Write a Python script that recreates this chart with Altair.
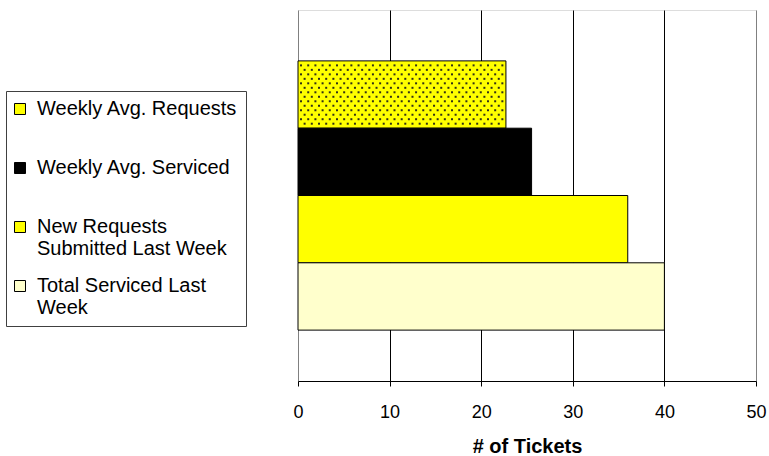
import altair as alt
import pandas as pd

# Ticket counts per series (bars from top to bottom)
categories = [
    "Weekly Avg. Requests",
    "Weekly Avg. Serviced",
    "New Requests\nSubmitted Last Week",
    "Total Serviced Last\nWeek",
]
tickets = [22.7, 25.5, 36.0, 40.0]
fills = ["#FFFF00", "#000000", "#FFFF00", "#FFFFCC"]
x_ticks = [0, 10, 20, 30, 40, 50]

# each bar occupies one slot [i, i + 1] on the vertical axis
bars = pd.DataFrame({
    "category": categories,
    "tickets": tickets,
    "lo": list(range(len(categories))),
    "hi": [i + 1 for i in range(len(categories))],
})

# Staggered dot texture laid over the first bar
dot_step = 0.785
dot_rows = 14
texture = []
for r in range(dot_rows):
    x = 0.33 + (r % 2) * dot_step / 2
    while x < tickets[0] - 0.15:
        texture.append({"x": x, "y": (r + 1) / (dot_rows + 1)})
        x += dot_step
dots = pd.DataFrame(texture)

FONT = "Liberation Sans"
OUTER = 0.756

x_scale = alt.Scale(domain=[0, 50], nice=False, zero=True)
y_scale = alt.Scale(domain=[-OUTER, len(categories) + OUTER], reverse=True, nice=False, zero=False)

x_axis = alt.Axis(
    values=x_ticks,
    title="# of Tickets",
    grid=True,
    gridColor={
        "condition": {"test": "datum.value == 0 || datum.value == 50", "value": "#808080"},
        "value": "black",
    },
    gridWidth=1,
    domainColor="black",
    domainWidth=1,
    tickColor="black",
    tickSize=5,
    labelFont=FONT,
    labelFontSize=18,
    labelColor="black",
    labelPadding=17,
    labelFlush=False,
    titleFont=FONT,
    titleFontSize=20,
    titleFontWeight="bold",
    titleColor="black",
    titlePadding=15,
)

legend = alt.Legend(
    title=None,
    orient="none",
    legendX=-292,
    legendY=81,
    padding=8,
    rowPadding=17,
    gridAlign="all",
    strokeColor="#404040",
    fillColor="white",
    symbolType="square",
    symbolSize=121,
    symbolStrokeColor="black",
    symbolStrokeWidth=1,
    symbolOffset=-4,
    labelFont=FONT,
    labelFontSize=20,
    labelColor="black",
    labelOffset=7,
    labelLimit=400,
    labelExpr="split(datum.label, '\\n')",
)

bar_layer = alt.Chart(bars).mark_bar(stroke="black", strokeWidth=1).encode(
    x=alt.X("tickets:Q", scale=x_scale, axis=x_axis),
    x2=alt.value(0),
    y=alt.Y("lo:Q", scale=y_scale, axis=None),
    y2="hi:Q",
    color=alt.Color(
        "category:N",
        scale=alt.Scale(domain=categories, range=fills),
        legend=legend,
        sort=categories,
    ),
)

dot_layer = alt.Chart(dots).mark_square(size=4, color="#1a1a1a", opacity=0.9).encode(
    x=alt.X("x:Q", scale=x_scale, axis=x_axis),
    y=alt.Y("y:Q", scale=y_scale, axis=None),
)

chart = (
    alt.layer(bar_layer, dot_layer)
    .properties(
        width=458,
        height=371,
        autosize=alt.AutoSizeParams(type="none"),
        padding={"left": 298, "top": 10, "right": 13, "bottom": 75},
    )
    .configure_view(stroke="#808080", strokeWidth=1)
    .configure(background="white")
)

chart.save("out.html", embed_options={"renderer": "svg", "actions": False})
